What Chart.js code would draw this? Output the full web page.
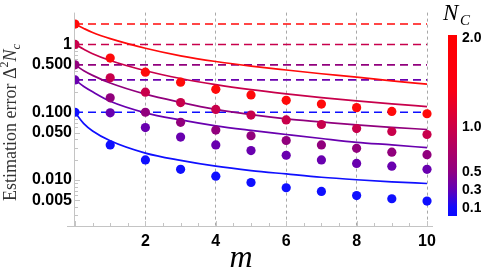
<!DOCTYPE html>
<html>
<head>
<meta charset="utf-8">
<script src="https://cdn.jsdelivr.net/npm/chart.js@4.4.1/dist/chart.umd.min.js"></script>
<style>
  html, body { margin: 0; padding: 0; background: #fff; }
  #wrap { width: 481px; height: 271px; }
</style>
</head>
<body>
<div id="wrap"><canvas id="myChart"></canvas></div>
<script>
// data
const ncValues = [2.0, 1.0, 0.5, 0.3, 0.1];
const ncColors = ['rgb(255,10,10)', 'rgb(200,0,75)', 'rgb(145,0,125)', 'rgb(105,0,175)', 'rgb(15,15,255)'];

const dotM = [0, 1, 2, 3, 4, 5, 6, 7, 8, 9, 10];
const dotsN2 = [2.0, 0.63, 0.39, 0.278, 0.218, 0.18, 0.15, 0.132, 0.117, 0.103, 0.095];
const dotsN1 = [1.0, 0.323, 0.198, 0.139, 0.110, 0.091, 0.077, 0.066, 0.0575, 0.052, 0.047];
const dotsN05 = [0.5, 0.163, 0.100, 0.071, 0.0545, 0.045, 0.0383, 0.033, 0.0294, 0.0258, 0.0237];
const dotsN03 = [0.3, 0.098, 0.0594, 0.0431, 0.033, 0.0272, 0.0232, 0.0198, 0.0176, 0.016, 0.0144];
const dotsN01 = [0.1, 0.033, 0.0198, 0.0144, 0.0114, 0.0092, 0.0077, 0.0068, 0.0059, 0.0053, 0.0049];

const curveM = [0, 0.25, 0.5, 1, 2, 3, 4, 5, 6, 7, 8, 9, 10];
const curveN2 = [2.0, 1.72, 1.5, 1.22, 0.88, 0.68, 0.56, 0.48, 0.42, 0.37, 0.33, 0.29, 0.26];
const curveN1 = [1.0, 0.85, 0.73, 0.58, 0.41, 0.315, 0.256, 0.216, 0.187, 0.164, 0.147, 0.133, 0.121];
const curveN05 = [0.5, 0.41, 0.35, 0.27, 0.185, 0.14, 0.11, 0.092, 0.080, 0.072, 0.065, 0.060, 0.0557];
const curveN03 = [0.3, 0.24, 0.2, 0.145, 0.098, 0.077, 0.063, 0.054, 0.047, 0.041, 0.036, 0.033, 0.030];
const curveN01 = [0.1, 0.068, 0.053, 0.038, 0.025, 0.0195, 0.016, 0.0138, 0.0123, 0.0110, 0.0101, 0.0094, 0.0089];

const yTicks = [0.005, 0.01, 0.05, 0.1, 0.5, 1];
const xTickStep = 2;
const colorbarTicks = [2.0, 1.0, 0.5, 0.3, 0.1];

const dotSets = [dotsN2, dotsN1, dotsN05, dotsN03, dotsN01];
const curveSets = [curveN2, curveN1, curveN05, curveN03, curveN01];

const pairs = (xs, ys) => xs.map((x, i) => ({ x: x, y: ys[i] }));

const datasets = [];
ncValues.forEach((n, i) => {
  datasets.push({
    type: 'scatter', data: pairs(dotM, dotSets[i]),
    backgroundColor: ncColors[i], borderWidth: 0, pointRadius: 4.6, order: 0
  });
  datasets.push({
    type: 'line', data: pairs(curveM, curveSets[i]),
    borderColor: ncColors[i], borderWidth: 1.7, pointRadius: 0,
    cubicInterpolationMode: 'monotone', fill: false, order: 1
  });
  datasets.push({
    type: 'line', data: [{ x: 0, y: n }, { x: 10, y: n }],
    borderColor: ncColors[i], borderWidth: 1.6, borderDash: [8, 5],
    pointRadius: 0, fill: false, order: 2
  });
});

// colour for the colorbar, by N_C value
const barStops = [
  [0.0, [10, 10, 255]], [0.1, [20, 10, 250]], [0.3, [100, 0, 180]],
  [0.5, [145, 0, 130]], [1.0, [205, 0, 70]], [1.4, [250, 0, 20]], [2.1, [255, 0, 0]]
];

const decor = {
  id: 'decor',
  beforeDatasetsDraw(chart) {
    const { ctx, chartArea: a, scales: { x, y } } = chart;
    ctx.save();
    ctx.strokeStyle = '#c4c4c4';
    ctx.lineWidth = 1;
    ctx.beginPath();
    ctx.moveTo(a.left - 0.5, a.top);
    ctx.lineTo(a.left - 0.5, a.bottom);
    ctx.moveTo(a.left - 8, a.bottom + 0.5);
    ctx.lineTo(a.right, a.bottom + 0.5);
    // x minor ticks
    for (let v = 0; v <= 10.001; v += 0.5) {
      const px = Math.round(x.getPixelForValue(v)) + 0.5;
      const len = (v % 2 === 0) ? 5 : 3;
      ctx.moveTo(px, a.bottom);
      ctx.lineTo(px, a.bottom - len);
    }
    // y minor ticks
    [0.001, 0.01, 0.1, 1].forEach(d => {
      for (let k = 1; k <= 9; k++) {
        const v = k * d;
        if (v < y.min || v > y.max) continue;
        const py = Math.round(y.getPixelForValue(v)) + 0.5;
        const len = yTicks.some(t => Math.abs(t - v) < 1e-9) ? 5 : 3;
        ctx.moveTo(a.left, py);
        ctx.lineTo(a.left + len, py);
      }
    });
    ctx.stroke();
    ctx.restore();
  },
  afterDraw(chart) {
    const { ctx, chartArea: a } = chart;
    ctx.save();
    // x title
    ctx.fillStyle = '#000';
    ctx.font = 'italic 32px "Liberation Serif"';
    ctx.textAlign = 'center';
    ctx.textBaseline = 'alphabetic';
    ctx.fillText('m', 241, 267);

    // y title, rotated
    ctx.save();
    ctx.translate(16, 201);
    ctx.rotate(-Math.PI / 2);
    ctx.textAlign = 'left';
    let cx = 0;
    const put = (t, font, dy) => {
      ctx.font = font;
      ctx.fillText(t, cx, dy || 0);
      cx += ctx.measureText(t).width;
    };
    ctx.fillStyle = '#333';
    put('Estimation error ', '18px "Liberation Serif"');
    put('\u0394', '18px "Liberation Serif"');
    put('2', '12px "Liberation Serif"', -8);
    put('N', 'italic 18px "Liberation Serif"');
    put('c', 'italic 13px "Liberation Serif"', 4);
    ctx.restore();

    // colorbar
    const barTop = 35, barBot = 216, barX = 448, barW = 9;
    const vTop = 2.02, vBot = 0.0;
    const vy = v => barBot - (v - vBot) / (vTop - vBot) * (barBot - barTop);
    const grad = ctx.createLinearGradient(0, barBot, 0, barTop);
    barStops.forEach(([v, c]) => {
      const t = Math.min(1, Math.max(0, (v - vBot) / (vTop - vBot)));
      grad.addColorStop(t, 'rgb(' + c.join(',') + ')');
    });
    ctx.fillStyle = grad;
    ctx.fillRect(barX, barTop, barW, barBot - barTop);

    ctx.fillStyle = '#000';
    ctx.font = 'bold 14px "Liberation Sans"';
    ctx.textAlign = 'left';
    ctx.textBaseline = 'middle';
    colorbarTicks.forEach(v => ctx.fillText(v.toFixed(1), 462, vy(v) + 1));

    // N_C label
    ctx.textBaseline = 'alphabetic';
    ctx.font = 'italic 23px "Liberation Serif"';
    ctx.fillText('N', 443, 20);
    ctx.font = 'italic 15px "Liberation Serif"';
    ctx.fillText('C', 460, 25);
    ctx.restore();
  }
};

const chart = new Chart(document.getElementById('myChart').getContext('2d'), {
  type: 'scatter',
  data: { datasets: datasets },
  options: {
    responsive: true,
    maintainAspectRatio: false,
    animation: false,
    layout: { padding: { left: 0, right: 48, top: 0, bottom: 0 } },
    plugins: { legend: { display: false }, tooltip: { enabled: false } },
    scales: {
      x: {
        type: 'linear', min: 0, max: 10.17,
        afterFit: s => { s.height = 45; },
        grid: {
          drawTicks: false,
          color: c => (c.tick && c.tick.value > 0) ? '#a8a8a8' : 'rgba(0,0,0,0)',
          lineWidth: 1
        },
        border: { display: false, dash: [3, 3] },
        ticks: {
          stepSize: xTickStep, includeBounds: false, padding: 6,
          color: '#000', font: { family: 'Liberation Sans', weight: 'bold', size: 16 },
          callback: v => (v === 0 ? '' : String(v))
        }
      },
      y: {
        type: 'logarithmic', min: 0.0021, max: 2.95,
        afterFit: s => { s.width = 75; },
        afterBuildTicks: s => { s.ticks = yTicks.map(v => ({ value: v })); },
        grid: { display: false, drawTicks: false },
        border: { display: false },
        ticks: {
          padding: 3, color: '#000',
          font: { family: 'Liberation Sans', weight: 'bold', size: 16 },
          callback: v => (v >= 1 ? '1' : v.toFixed(3))
        }
      }
    }
  },
  plugins: [decor]
});
</script>
</body>
</html>
